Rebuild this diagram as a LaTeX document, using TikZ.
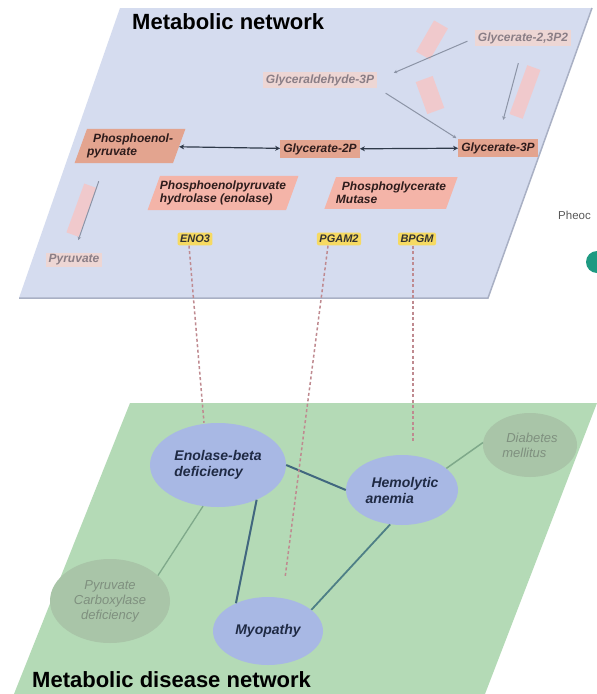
\documentclass[tikz,border=0pt]{standalone}
\usepackage{fontspec}
\setmainfont{Liberation Sans}
\usetikzlibrary{shapes.geometric,arrows.meta}
\definecolor{planetop}{HTML}{D5DCEF}
\definecolor{planeedge}{HTML}{A9B0C4}
\definecolor{planebot}{HTML}{B4DAB6}
\definecolor{salmon}{HTML}{E3A48F}
\definecolor{enzpink}{HTML}{F4B4A8}
\definecolor{fadepink}{HTML}{EDD6D4}
\definecolor{fadetext}{HTML}{8A7E86}
\definecolor{darktext}{HTML}{2E1C1C}
\definecolor{blurpink}{HTML}{F5C6C6}
\definecolor{geneyellow}{HTML}{F6DA62}
\definecolor{arrowgray}{HTML}{8C94A6}
\definecolor{arrowdark}{HTML}{2F3A4A}
\definecolor{dashcol}{HTML}{BF8A90}
\definecolor{disblue}{HTML}{A8B8E4}
\definecolor{disgray}{HTML}{A9C5A8}
\definecolor{distext}{HTML}{1F2A44}
\definecolor{grtext}{HTML}{7F907F}
\definecolor{edgedark}{HTML}{41677F}
\definecolor{edgeteal}{HTML}{4E7F86}
\definecolor{edgelight}{HTML}{7FA98A}
\definecolor{tealdot}{HTML}{1E9A82}
\begin{document}
\begin{tikzpicture}[x=1pt,y=-1pt,
  lbl/.style={font=\bfseries\itshape\fontsize{12}{13}\selectfont},
  mainbox/.style={lbl, fill=salmon, text=darktext, inner xsep=3pt, inner ysep=3pt},
  slantbox/.style={lbl, trapezium, trapezium left angle=70, trapezium right angle=110,
     text=darktext, align=left, inner xsep=0pt, inner ysep=5pt},
  fadebox/.style={lbl, fill=fadepink, text=fadetext, inner xsep=3pt, inner ysep=2pt},
  gene/.style={font=\bfseries\itshape\fontsize{11}{12}\selectfont, fill=geneyellow,
     text=black!80, rounded corners=2pt, inner xsep=2.5pt, inner ysep=2.5pt},
  blur/.style={fill=blurpink, opacity=0.85},
  grayarrow/.style={-{Stealth[length=3.5pt,width=3.5pt]}, draw=arrowgray, line width=1pt},
  dblarrow/.style={{Stealth[length=5pt,width=5pt]}-{Stealth[length=5pt,width=5pt]},
     draw=arrowdark, line width=1.2pt},
  genelink/.style={draw=dashcol, line width=1.5pt, dash pattern=on 3pt off 2.5pt},
  disease/.style={ellipse, fill=disblue, text=distext, inner sep=0pt,
     font=\bfseries\itshape\fontsize{14}{16}\selectfont, align=left},
  faded/.style={ellipse, fill=disgray, text=grtext, inner sep=0pt,
     font=\itshape\fontsize{13}{15}\selectfont},
  title/.style={font=\bfseries\fontsize{22}{26}\selectfont, text=black, inner sep=0pt, anchor=west}
]
\useasboundingbox (0,0) rectangle (597,694);
\fill[white] (0,0) rectangle (597,694);

% ---------- planes ----------
\fill[planetop] (120,8) -- (592,8) -- (488,298) -- (19,298) -- cycle;
\draw[planeedge, line width=1.5pt] (592,8) -- (488,298) -- (19,298);
\fill[planebot] (130,403) -- (597,403) -- (485,694) -- (14,694) -- cycle;

% ---------- adjacent figure fragment ----------
\node[anchor=west, inner sep=0pt, text=black!65, font=\fontsize{11.5}{13}\selectfont] (pheoc) at (558,215) {Pheoc};
\node[circle, fill=tealdot, minimum size=22pt, inner sep=0pt] (tealcircle) at (597,262) {};

% ---------- titles ----------
\node[title] (toptitle) at (132,22) {Metabolic network};
\node[title] (bottitle) at (32,680) {Metabolic disease network};

% ---------- blurred reaction marks ----------
\fill[blur, rotate around={-30:(432,40)}] (424,22) rectangle (440,58);
\fill[blur, rotate around={20:(430,95)}] (421,78) rectangle (439,112);
\fill[blur, rotate around={-20:(525,92)}] (518,66) rectangle (532,118);
\fill[blur, rotate around={-20:(81,210)}] (75,184) rectangle (88,236);

% ---------- metabolic network ----------
\node[fadebox] (g23) at (523,38) {Glycerate-2,3P2};
\node[fadebox] (gald) at (320,80) {Glyceraldehyde-3P};
\node[mainbox] (g2p) at (320,149) {Glycerate-2P};
\node[mainbox] (g3p) at (498,148) {Glycerate-3P};
\node[slantbox, fill=salmon] (pep) at (130,146) {\hspace*{6pt}Phosphoenol-\\pyruvate};
\node[slantbox, fill=enzpink] (enolasebox) at (223,193) {Phosphoenolpyruvate\\hydrolase (enolase)};
\node[slantbox, fill=enzpink] (pgmbox) at (391,193) {\hspace*{6pt}Phosphoglycerate\\Mutase};
\node[fadebox] (pyr) at (74,260) {Pyruvate};
\node[gene] (eno3) at (195,239) {ENO3};
\node[gene] (pgam2) at (339,239) {PGAM2};
\node[gene] (bpgm) at (417,239) {BPGM};

\draw[grayarrow, shorten <=8pt, shorten >=18pt] (g23.west) -- (gald.east);
\draw[grayarrow, shorten <=10pt, shorten >=2pt] (gald.south east) -- (g3p.north west);
\draw[grayarrow, shorten <=18pt, shorten >=20pt] (g23.south) -- (g3p.north);
\draw[grayarrow, shorten <=19pt, shorten >=13pt] ([xshift=-25pt]pep.south) -- (pyr.north);
\draw[dblarrow] (pep) -- (g2p);
\draw[dblarrow] (g2p) -- (g3p);

% ---------- disease network ----------
\node[disease, minimum width=136pt, minimum height=84pt] (enolase) at (218,465) {Enolase-beta\\deficiency};
\node[disease, minimum width=112pt, minimum height=70pt] (hemolytic) at (402,490) {\hspace*{6pt}Hemolytic\\anemia};
\node[disease, minimum width=110pt, minimum height=68pt] (myopathy) at (268,631) {Myopathy};
\node[faded, minimum width=120pt, minimum height=84pt, align=center] (pyrcarb) at (110,601) {Pyruvate\\Carboxylase\\deficiency};
\node[faded, minimum width=94pt, minimum height=64pt, align=left] (diabetes) at (530,445) {\hspace*{4pt}Diabetes\\mellitus};

\draw[draw=edgedark, line width=2pt] (enolase.0) -- (hemolytic.180);
\draw[draw=edgedark, line width=2pt] (enolase.-42) -- (myopathy.139);
\draw[draw=edgeteal, line width=1.8pt] (hemolytic.251) -- (myopathy.26);
\draw[draw=edgelight, line width=1.3pt] (enolase.250) -- (pyrcarb.28);
\draw[draw=edgelight, line width=1.5pt] (hemolytic.26) -- (diabetes.177);

% ---------- gene-to-disease links ----------
\coordinate (pgamend) at (285,578);
\coordinate (bpgmend) at (413,443);
\draw[genelink] ([xshift=-6pt]eno3.south) -- ([xshift=-14pt]enolase.north);
\draw[genelink] ([xshift=-11pt]pgam2.south) -- (pgamend);
\draw[genelink] ([xshift=-4pt]bpgm.south) -- (bpgmend);
\end{tikzpicture}
\end{document}
